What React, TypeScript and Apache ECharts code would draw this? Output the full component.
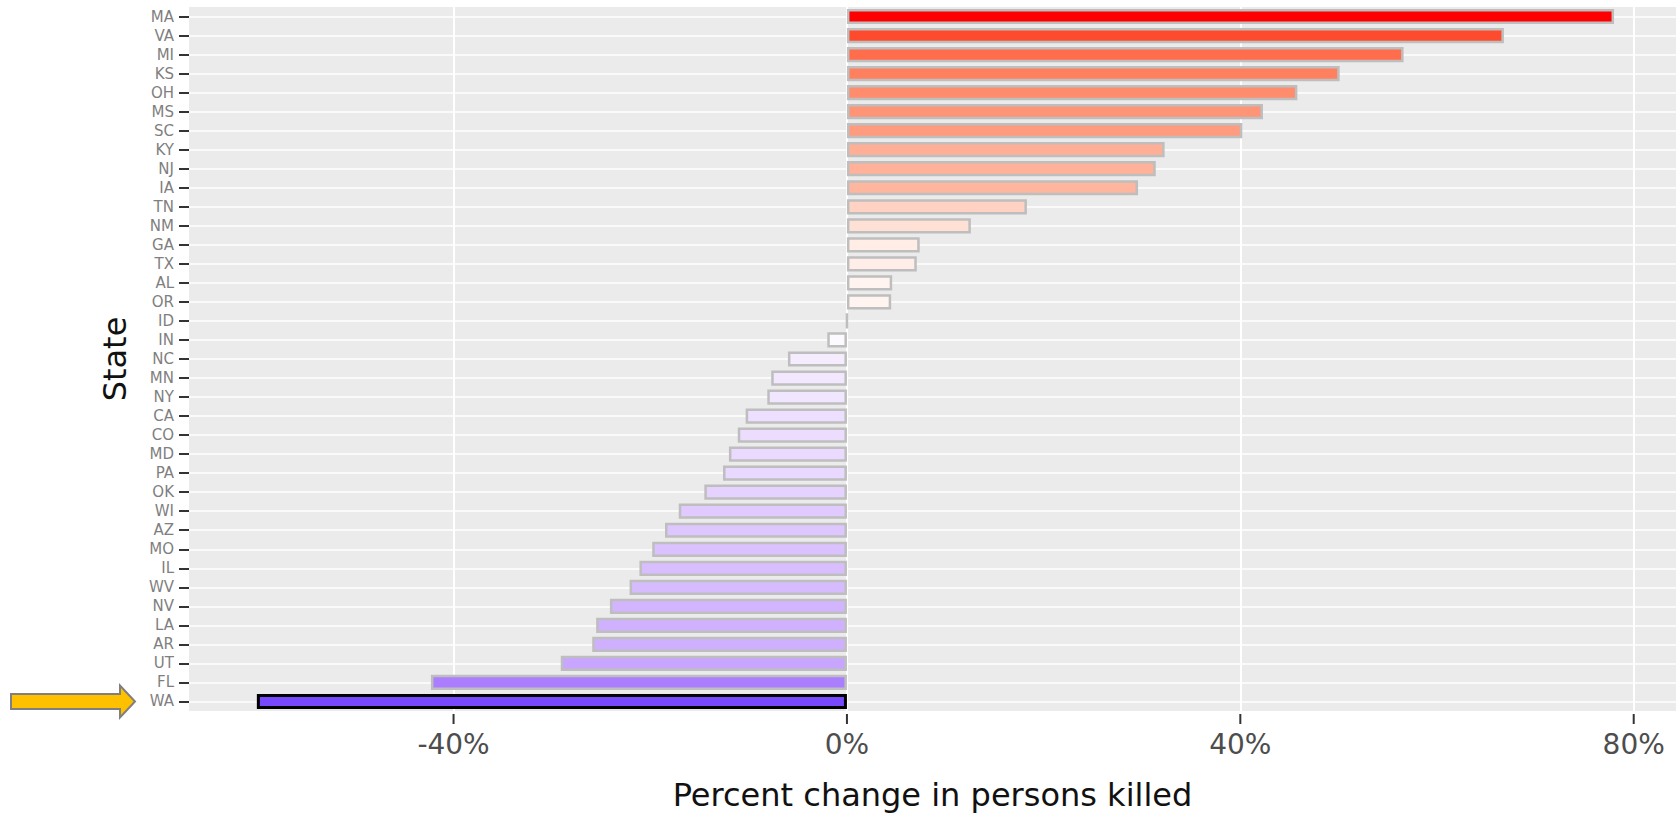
import React, { useEffect, useRef } from 'react';
import * as echarts from 'echarts';

const states = ['MA','VA','MI','KS','OH','MS','SC','KY','NJ','IA','TN','NM','GA','TX','AL','OR','ID','IN','NC','MN','NY','CA','CO','MD','PA','OK','WI','AZ','MO','IL','WV','NV','LA','AR','UT','FL','WA'];
const changes = [78.0, 66.8, 56.6, 50.1, 45.8, 42.3, 40.2, 32.3, 31.4, 29.6, 18.3, 12.6, 7.4, 7.1, 4.6, 4.5, 0, -2.0, -6.0, -7.7, -8.1, -10.3, -11.1, -12.0, -12.6, -14.5, -17.1, -18.5, -19.8, -21.1, -22.1, -24.1, -25.5, -25.9, -29.1, -42.3, -60.0];
const xTicks = [-40, 0, 40, 80];
const highlightState = 'WA';

const HIGH = '#FF0000';
const LOW = '#7848FF';
const MID = '#FFFFFF';

const CHART_W = 1676;
const CHART_H = 816;
const GRID = { left: 189, right: 0, top: 7, bottom: 103 };
const X_MIN = -66.9;
const X_MAX = 84.3;

function toLin(c: number) { c /= 255; return c <= 0.04045 ? c / 12.92 : Math.pow((c + 0.055) / 1.055, 2.4); }
function fromLin(c: number) { const v = c <= 0.0031308 ? 12.92 * c : 1.055 * Math.pow(c, 1 / 2.4) - 0.055; return Math.round(Math.max(0, Math.min(1, v)) * 255); }
function hexToRgb(h: string) { return [parseInt(h.slice(1, 3), 16), parseInt(h.slice(3, 5), 16), parseInt(h.slice(5, 7), 16)]; }
const XN = 0.95047, YN = 1, ZN = 1.08883;
function f(t: number) { return t > 0.008856 ? Math.cbrt(t) : 7.787 * t + 16 / 116; }
function fi(t: number) { return t > 0.206893 ? t * t * t : (t - 16 / 116) / 7.787; }
function rgbToLab(rgb: number[]) {
  const R = toLin(rgb[0]), G = toLin(rgb[1]), B = toLin(rgb[2]);
  const X = (0.4124 * R + 0.3576 * G + 0.1805 * B) / XN;
  const Y = (0.2126 * R + 0.7152 * G + 0.0722 * B) / YN;
  const Z = (0.0193 * R + 0.1192 * G + 0.9505 * B) / ZN;
  const fx = f(X), fy = f(Y), fz = f(Z);
  return [116 * fy - 16, 500 * (fx - fy), 200 * (fy - fz)];
}
function labToHex(lab: number[]) {
  const fy = (lab[0] + 16) / 116, fx = fy + lab[1] / 500, fz = fy - lab[2] / 200;
  const X = fi(fx) * XN, Y = fi(fy) * YN, Z = fi(fz) * ZN;
  const R = 3.2406 * X - 1.5372 * Y - 0.4986 * Z;
  const G = -0.9689 * X + 1.8758 * Y + 0.0415 * Z;
  const B = 0.0557 * X - 0.204 * Y + 1.057 * Z;
  return '#' + [R, G, B].map((c) => fromLin(c).toString(16).padStart(2, '0')).join('');
}
function mixLab(a: string, b: string, t: number) {
  const la = rgbToLab(hexToRgb(a)), lb = rgbToLab(hexToRgb(b));
  return labToHex(la.map((v, i) => v + (lb[i] - v) * t));
}
const maxPos = Math.max(...changes);
const maxNeg = Math.abs(Math.min(...changes));
function fillFor(v: number) {
  if (v >= 0) return mixLab(MID, HIGH, v / maxPos);
  return mixLab(MID, LOW, -v / maxNeg);
}

export default function App() {
  const ref = useRef<HTMLDivElement>(null);
  useEffect(() => {
    if (!ref.current) return;
    const chart = echarts.init(ref.current, undefined, { renderer: 'svg' });
    const font = 'DejaVu Sans';
    chart.setOption({
      animation: false,
      backgroundColor: '#ffffff',
      textStyle: { fontFamily: font },
      grid: { ...GRID, show: true, backgroundColor: '#EBEBEB', borderWidth: 0 },
      xAxis: {
        type: 'value', min: X_MIN, max: X_MAX, position: 'bottom',
        axisLine: { show: false, onZero: false },
        axisTick: { show: false, customValues: xTicks },
        axisLabel: { customValues: xTicks, formatter: (v: number) => `${v}%`, fontSize: 28, color: '#4d4d4d', fontFamily: font, margin: 19 },
        splitLine: { show: true, lineStyle: { color: '#ffffff', width: 2 } },
        name: 'Percent change in persons killed', nameLocation: 'middle', nameGap: 68,
        nameTextStyle: { fontSize: 32, color: '#111111', fontFamily: font },
      },
      yAxis: [
        {
          type: 'category', data: states, inverse: true,
          axisLine: { show: false, onZero: false },
          axisTick: { show: true, interval: 0, alignWithLabel: true, length: 10, lineStyle: { color: '#333333', width: 2 } },
          axisLabel: { interval: 0, fontSize: 15, color: '#7f7f7f', margin: 15, fontFamily: font },
          splitLine: { show: false },
          name: 'State', nameLocation: 'middle', nameGap: 58, nameRotate: 90,
          nameTextStyle: { fontSize: 32, color: '#111111', fontFamily: font },
        },
        {
          type: 'value', inverse: true, min: -0.5, max: states.length - 0.5, position: 'left',
          axisLine: { show: false, onZero: false },
          axisTick: { show: false, customValues: states.map((_, i) => i) },
          axisLabel: { show: false, customValues: states.map((_, i) => i) },
          splitLine: { show: true, lineStyle: { color: '#ffffff', width: 1.5 } },
        },
      ],
      series: [
        {
          type: 'bar', yAxisIndex: 0, barWidth: '80%',
          data: changes.map((v, i) => ({
            value: v,
            itemStyle: {
              color: fillFor(v),
              borderColor: states[i] === highlightState ? '#000000' : '#BEBEBE',
              borderWidth: states[i] === highlightState ? 3 : 2.5,
            },
          })),
        },
      ],
    });
    const y = chart.convertToPixel({ yAxisIndex: 0 }, highlightState) as number;
    const bottomY = CHART_H - GRID.bottom;
    const plotW = CHART_W - GRID.left - GRID.right;
    const tickRects = xTicks.map((v) => {
      const px: any = chart.convertToPixel({ xAxisIndex: 0 }, v);
      let x = Array.isArray(px) ? px[0] : px;
      if (typeof x !== 'number' || !isFinite(x)) x = GRID.left + ((v - X_MIN) / (X_MAX - X_MIN)) * plotW;
      return {
        type: 'rect', z: 100,
        shape: { x: x - 1, y: bottomY + 1, width: 2, height: 10 },
        style: { fill: '#333333' },
      };
    });
    chart.setOption({
      graphic: [
        ...tickRects,
        {
          type: 'polygon', z: 100,
          shape: { points: [[11, y - 7.5], [120, y - 7.5], [120, y - 16], [135, y], [120, y + 16], [120, y + 7.5], [11, y + 7.5]] },
          style: { fill: '#FFC000', stroke: '#7F7F7F', lineWidth: 2 },
        },
      ],
    });
    return () => chart.dispose();
  }, []);
  return <div ref={ref} style={{ position: 'absolute', left: 0, top: 0, width: CHART_W, height: CHART_H }} />;
}
